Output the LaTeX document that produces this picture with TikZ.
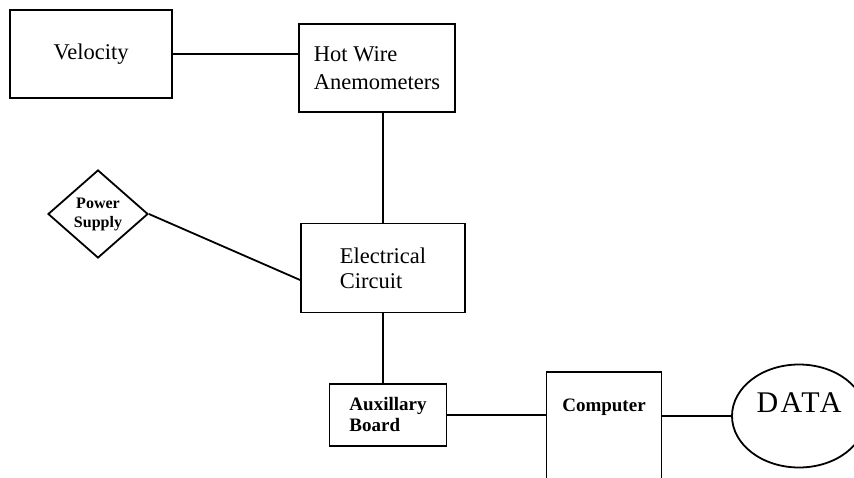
\documentclass[tikz,border=0pt]{standalone}
\usepackage{fontspec}
\setmainfont{Liberation Serif}
\usetikzlibrary{shapes.geometric}

\begin{document}
\begin{tikzpicture}[x=1pt, y=-1pt, line width=1.8pt,
        block/.style={rectangle, draw, align=center, inner sep=0pt},
        bigtext/.style={font=\fontsize{22.5}{25}\selectfont},
        boldtext/.style={font=\bfseries\fontsize{19}{21}\selectfont}]

        \clip (0,0) rectangle (854,478);

        \node[block, bigtext, minimum width=162pt, minimum height=88pt] (velocity) at (91,54) {Velocity};
        \node[block, bigtext, align=left, minimum width=156pt, minimum height=88pt] (hotwire) at (377,68) {Hot Wire\\[3pt]Anemometers};
        \node[block, bigtext, align=left, minimum width=164pt, minimum height=89pt] (circuit) at (383,268) {Electrical\\Circuit};
        \node[diamond, draw, align=center, inner sep=0pt, minimum width=100pt, minimum height=88pt,
            font=\bfseries\fontsize{16}{19}\selectfont] (power) at (98,214) {Power\\Supply};
        \node[block, boldtext, align=left, minimum width=117pt, minimum height=62pt] (auxboard) at (388,415) {Auxillary\\Board};
        \node[block, minimum width=115pt, minimum height=140pt, anchor=north,
            label={[boldtext, anchor=north, yshift=-24pt]north:Computer}] (computer) at (604,371) {};
        \node[ellipse, draw, inner sep=0pt, minimum width=134pt, minimum height=103pt, text depth=27pt,
            font=\fontsize{30}{32}\selectfont\addfontfeatures{LetterSpace=8}] (data) at (799,416) {DATA};

        \draw (velocity.east) -- (velocity.east -| hotwire.west);
        \draw (circuit.north |- hotwire.south) -- (circuit.north);
        \draw (power.east) -- ([yshift=-12pt]circuit.west);
        \draw (circuit.south) -- (circuit.south |- auxboard.north);
        \draw (auxboard.east) -- (auxboard.east -| computer.west);
        \draw (data.west -| computer.east) -- (data.west);
    \end{tikzpicture}
\end{document}
